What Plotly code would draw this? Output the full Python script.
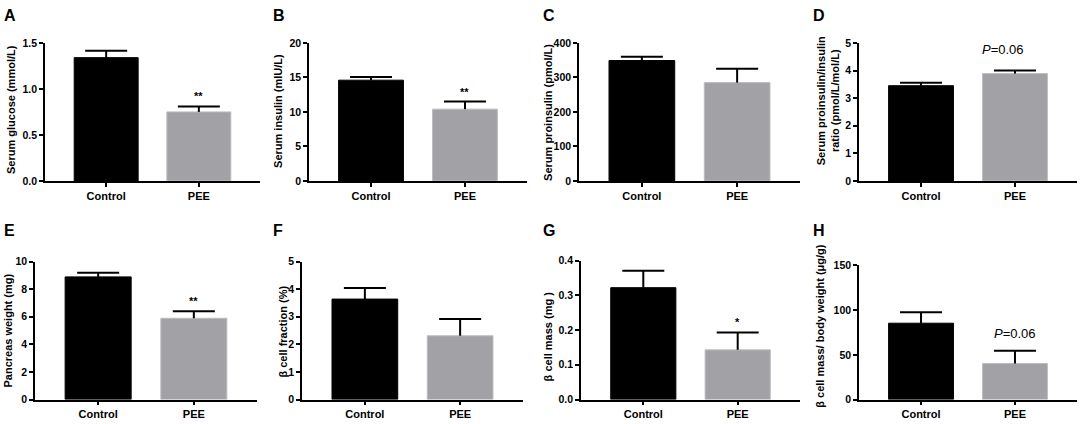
import plotly.graph_objects as go

W, H = 1084, 424

groups = ["Control", "PEE"]

glucose_mean = [1.34, 0.75]
glucose_sem = [0.075, 0.06]
insulin_mean = [14.6, 10.4]
insulin_sem = [0.45, 1.1]
proinsulin_mean = [349, 285]
proinsulin_sem = [11, 40]
ratio_mean = [3.45, 3.89]
ratio_sem = [0.11, 0.11]
pancreas_mean = [8.89, 5.89]
pancreas_sem = [0.3, 0.5]
fraction_mean = [3.64, 2.31]
fraction_sem = [0.40, 0.61]
mass_mean = [0.322, 0.143]
mass_sem = [0.049, 0.05]
massbw_mean = [85.4, 40.3]
massbw_sem = [12.3, 14.2]

panel_letters = ["A", "B", "C", "D", "E", "F", "G", "H"]
y_titles = [
    "Serum glucose (mmol/L)",
    "Serum insulin (mIU/L)",
    "Serum proinsulin (pmol/L)",
    "Serum proinsulin/insulin<br>ratio (pmol/L/mol/L)",
    "Pancreas weight (mg)",
    "β cell fraction (%)",
    "β cell mass (mg )",
    "β cell mass/ body weight (μg/g)",
]
y_max = [1.5, 20, 400, 5, 10, 5, 0.4, 150]
y_dtick = [0.5, 5, 100, 1, 2, 1, 0.1, 50]
y_format = [".1f", "d", "d", "d", "d", "d", ".1f", "d"]
signif = ["**", "**", "", "<i>P</i>=0.06", "**", "", "*", "<i>P</i>=0.06"]

means = [glucose_mean, insulin_mean, proinsulin_mean, ratio_mean,
         pancreas_mean, fraction_mean, mass_mean, massbw_mean]
sems = [glucose_sem, insulin_sem, proinsulin_sem, ratio_sem,
        pancreas_sem, fraction_sem, mass_sem, massbw_sem]

# plot boxes in pixels: x0, x1, ytop, ybottom
boxes = [
    (45, 260, 38, 180), (309, 527, 38, 180), (579, 800, 38, 180), (859, 1077, 38, 180),
    (35, 257, 263, 405), (302, 523, 263, 405), (581, 800, 262, 405), (859, 1077, 267, 405),
]
# y-title centre positions (px) and letter positions
title_pos = [(11, 107), (278, 108), (548, 110), (828, 98),
             (8, 334), (283, 335), (548, 340), (820, 329)]
letter_pos = [(2, -1), (271, -1), (541, -1), (811, -1),
              (2, 220), (271, 220), (541, 220), (811, 220)]
# extra offsets for significance labels (px)
sig_shift = [(0, 2), (0, 2), (0, 0), (-12, 12), (0, 2), (0, 0), (0, 2), (0, 8)]

FONT = "Liberation Sans, Arial, sans-serif"

fig = go.Figure()
layout = dict(
    width=W, height=H,
    margin=dict(l=0, r=0, t=0, b=0),
    plot_bgcolor="white",
    paper_bgcolor="white",
    font=dict(family=FONT, color="black"),
    showlegend=False,
)
annotations = []

for i in range(8):
    n = "" if i == 0 else str(i + 1)
    x0, x1, yt, yb = boxes[i]
    tops = [m + s for m, s in zip(means[i], sems[i])]
    fig.add_trace(go.Bar(
        x=groups,
        y=means[i],
        xaxis="x" + n,
        yaxis="y" + n,
        width=0.69,
        marker=dict(color=["black", "#a2a2a6"],
                    line=dict(color=["black", "#bdbdc0"], width=1)),
    ))
    # upper-only SEM: stem down to the bar, cap drawn as a horizontal marker
    fig.add_trace(go.Scatter(
        x=groups,
        y=tops,
        xaxis="x" + n,
        yaxis="y" + n,
        mode="markers",
        marker=dict(symbol="line-ew", size=30, line=dict(color="black", width=2)),
        error_y=dict(type="data", array=[0, 0], arrayminus=sems[i], symmetric=False,
                     color="black", thickness=2, width=0),
    ))
    layout["xaxis" + n] = dict(
        domain=[x0 / W, x1 / W], anchor="y" + n,
        range=[-0.66, 1.66], showgrid=False, zeroline=False,
        showline=True, linecolor="black", linewidth=1.5,
        ticks="outside", ticklen=4, tickwidth=1.5, tickcolor="black",
        tickfont=dict(size=11, weight="bold", family=FONT),
    )
    layout["yaxis" + n] = dict(
        domain=[1 - yb / H, 1 - yt / H], anchor="x" + n,
        range=[0, y_max[i]], dtick=y_dtick[i], tickformat=y_format[i],
        showgrid=False, zeroline=False,
        showline=True, linecolor="black", linewidth=1.5,
        ticks="outside", ticklen=4, tickwidth=1.5, tickcolor="black",
        tickfont=dict(size=10.5, weight="bold", family=FONT),
    )
    tx, ty = title_pos[i]
    annotations.append(dict(
        text=y_titles[i], xref="paper", yref="paper",
        x=tx / W, y=1 - ty / H, xanchor="center", yanchor="middle",
        textangle=-90, showarrow=False,
        font=dict(size=11, weight="bold", family=FONT),
    ))
    lx, ly = letter_pos[i]
    annotations.append(dict(
        text=panel_letters[i], xref="paper", yref="paper",
        x=lx / W, y=1 - ly / H, xanchor="left", yanchor="top",
        showarrow=False, font=dict(size=16, weight="bold", family=FONT),
    ))
    if signif[i]:
        is_p = signif[i].startswith("<i>")
        dx, dy = sig_shift[i]
        annotations.append(dict(
            text=signif[i], xref="x" + n, yref="y" + n,
            x=groups[1], y=tops[1],
            xanchor="center", yanchor="bottom", xshift=dx, yshift=dy,
            showarrow=False,
            font=dict(size=13 if is_p else 11, weight="normal" if is_p else "bold", family=FONT),
        ))

layout["annotations"] = annotations
fig.update_layout(**layout)

# drop the page's default body margin so the figure fills the window
fig.write_html("out.html", config={"displayModeBar": False},
               post_script="document.body.style.margin='0';")
